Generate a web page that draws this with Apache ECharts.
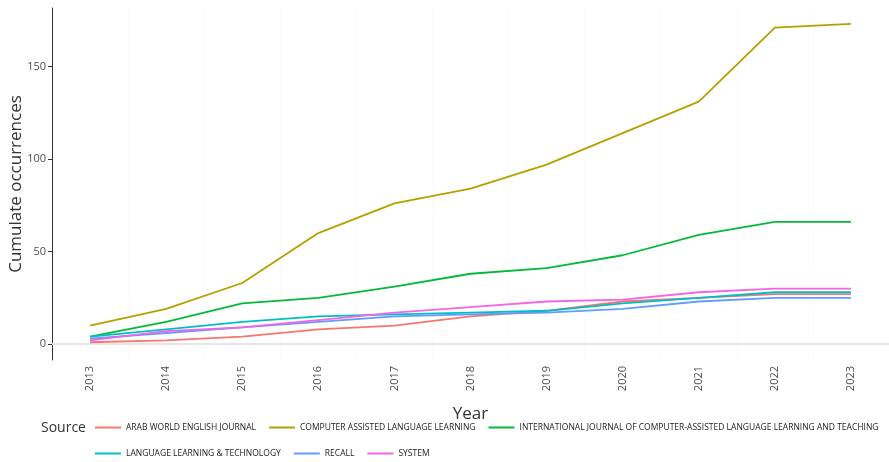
<!DOCTYPE html>
<html>
<head>
<meta charset="utf-8">
<script src="https://cdn.jsdelivr.net/npm/echarts@6/dist/echarts.min.js"></script>
<style>
  html, body { margin: 0; padding: 0; background: #fff; }
  #chart { width: 889px; height: 462px; }
</style>
</head>
<body>
<div id="chart"></div>
<script>
const years = ['2013', '2014', '2015', '2016', '2017', '2018', '2019', '2020', '2021', '2022', '2023']
const yTicks = [0, 50, 100, 150]

const sources = [
  'ARAB WORLD ENGLISH JOURNAL',
  'COMPUTER ASSISTED LANGUAGE LEARNING',
  'INTERNATIONAL JOURNAL OF COMPUTER-ASSISTED LANGUAGE LEARNING AND TEACHING',
  'LANGUAGE LEARNING & TECHNOLOGY',
  'RECALL',
  'SYSTEM'
]
const colors = ['#F8766D', '#B79F00', '#00BA38', '#00BFC4', '#619CFF', '#F564E3']

const arabWorld = [1, 2, 4, 8, 10, 15, 18, 23, 25, 27, 27]
const computerAssisted = [10, 19, 33, 60, 76, 84, 97, 114, 131, 171, 173]
const ijcallt = [4, 12, 22, 25, 31, 38, 41, 48, 59, 66, 66]
const llTech = [4, 8, 12, 15, 16, 17, 18, 22, 25, 28, 28]
const recall = [3, 6, 9, 12, 15, 16, 17, 19, 23, 25, 25]
const system = [2, 7, 9, 13, 17, 20, 23, 24, 28, 30, 30]

const seriesData = [arabWorld, computerAssisted, ijcallt, llTech, recall, system]

const chart = echarts.init(document.getElementById('chart'))

const legendText = { fontSize: 8.5, color: '#222', fontFamily: 'Open Sans' }
const legendBase = {
  orient: 'horizontal',
  icon: 'rect',
  itemWidth: 26,
  itemHeight: 2,
  itemGap: 13,
  textStyle: legendText,
  selectedMode: false
}

const option = {
  backgroundColor: '#fff',
  animation: false,
  grid: { left: 52, right: 0, top: 8, bottom: 102, outerBoundsMode: 'none' },
  title: {
    text: 'Source',
    left: 36,
    top: 416,
    textStyle: { fontSize: 14, fontWeight: 'normal', color: '#333', fontFamily: 'Open Sans' }
  },
  legend: [
    Object.assign({}, legendBase, { left: 90, top: 418, data: sources.slice(0, 3) }),
    Object.assign({}, legendBase, { left: 90, top: 444, data: sources.slice(3) })
  ],
  xAxis: {
    type: 'category',
    data: years,
    boundaryGap: true,
    name: 'Year',
    nameLocation: 'middle',
    nameGap: 46,
    nameTextStyle: { fontSize: 17, color: '#333', fontFamily: 'Open Sans' },
    axisLine: { lineStyle: { color: '#333', width: 1 } },
    axisTick: { alignWithLabel: true, length: 4, lineStyle: { color: '#333' } },
    axisLabel: { rotate: 90, fontSize: 11, color: '#4d4d4d', margin: 6, fontFamily: 'Open Sans' },
    splitLine: { show: true, interval: 0, lineStyle: { color: '#fafafa', width: 1 } }
  },
  yAxis: {
    type: 'value',
    min: -8.6,
    max: 181.6,
    name: 'Cumulate occurrences',
    nameLocation: 'middle',
    nameGap: 27,
    nameMoveOverlap: false,
    nameTextStyle: { fontSize: 17, color: '#333', fontFamily: 'Open Sans' },
    axisLine: { show: true, lineStyle: { color: '#333', width: 1 } },
    axisTick: { show: true, length: 4, customValues: yTicks, lineStyle: { color: '#333' } },
    axisLabel: { fontSize: 11, color: '#4d4d4d', margin: 6, customValues: yTicks, fontFamily: 'Open Sans' },
    splitLine: { show: false }
  },
  series: sources.map((name, i) => ({
    name: name,
    type: 'line',
    data: seriesData[i],
    symbol: 'none',
    z: 3,
    lineStyle: { color: colors[i], width: 1.8 },
    itemStyle: { color: colors[i] },
    markLine: i === 0 ? {
      silent: true,
      symbol: 'none',
      z: 1,
      label: { show: false },
      lineStyle: { color: '#e6e6e6', width: 2, type: 'solid' },
      data: [{ yAxis: 0 }]
    } : undefined
  }))
}

chart.setOption(option)
</script>
</body>
</html>
